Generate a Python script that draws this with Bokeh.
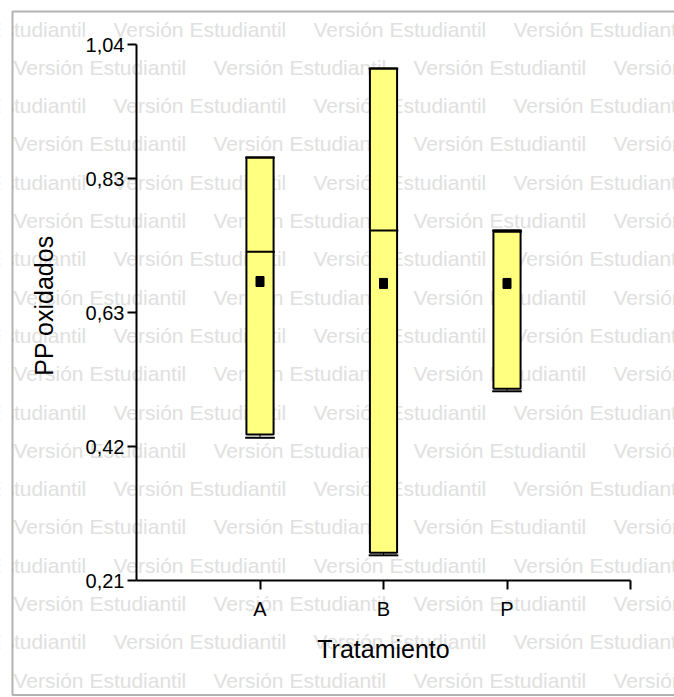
from bokeh.plotting import figure
from bokeh.models import ColumnDataSource, LabelSet, PolyAnnotation, FixedTicker, Range1d
from bokeh.core.properties import value
from bokeh.embed import file_html
from bokeh.resources import INLINE

# ---------------- data ----------------
treatments = ["A", "B", "P"]
x_pos = [1, 2, 3]
mins = [0.431, 0.249, 0.503]
q1 = [0.436, 0.253, 0.507]
medians = [0.719, 0.752, 0.750]
q3 = [0.865, 1.003, 0.752]
maxs = [0.865, 1.003, 0.752]
means = [0.673, 0.670, 0.670]

y_ticks = [0.21, 0.4175, 0.625, 0.8325, 1.04]
y_tick_labels = ["0,21", "0,42", "0,63", "0,83", "1,04"]
x_ticks = [1, 2, 3, 4]
x_tick_labels = ["A", "B", "P", ""]

# ---------------- layout (page pixels) ----------------
W, H = 674, 697
AX_L, AX_R, AX_T, AX_B = 136, 630, 44, 580     # axes box in page px
X0, X1 = 0.0, 4.0
Y0, Y1 = 0.21, 1.04
kx = (AX_R - AX_L) / (X1 - X0)
ky = (AX_B - AX_T) / (Y1 - Y0)

p = figure(width=W, height=H,
           x_range=Range1d(X0 - AX_L / kx, X1 + (W - AX_R) / kx),
           y_range=Range1d(Y0 - (H - AX_B) / ky, Y1 + AX_T / ky),
           output_backend="svg", toolbar_location=None,
           min_border_left=0, min_border_right=0, min_border_top=0, min_border_bottom=0)
p.grid.visible = False
p.outline_line_color = None
p.background_fill_color = "white"
p.border_fill_color = "white"

# ---------------- watermark ----------------
def scr(px, py):
    return px, H - py

wm_x, wm_y, wm_t = [], [], []
for k in range(18):
    base = 36 + 38.3 * k
    start = 113 if k % 2 == 0 else 13
    for j in range(-1, 4):
        sx, sy = scr(start + 200 * j, base)
        wm_x.append(sx)
        wm_y.append(sy)
        wm_t.append("Versión Estudiantil")
wm_src = ColumnDataSource(dict(x=wm_x, y=wm_y, t=wm_t))
wm = LabelSet(x="x", y="y", text="t", source=wm_src, x_units="screen", y_units="screen",
              text_font=value("Liberation Sans"), text_font_size="21px", text_color="#E0E0E0",
              text_baseline="alphabetic", text_align="left", level="underlay")
p.add_layout(wm)

mx, my = zip(*[scr(0, 0), scr(12, 0), scr(12, H), scr(0, H)])
mask = PolyAnnotation(xs=list(mx), ys=list(my), xs_units="screen", ys_units="screen",
                      fill_color="white", fill_alpha=1, line_alpha=0, level="underlay")
p.add_layout(mask)

fx, fy = zip(*[scr(12, 11), scr(900, 11), scr(900, 694.5), scr(12, 694.5)])
frame = PolyAnnotation(xs=list(fx), ys=list(fy), xs_units="screen", ys_units="screen",
                       fill_alpha=0, line_color="black", line_width=2, level="underlay")
p.add_layout(frame)

# ---------------- boxes ----------------
box_w = 0.22
cap_w = 0.24
src = ColumnDataSource(dict(
    x=x_pos, mins=mins, q1=q1, med=medians, q3=q3, maxs=maxs, mean=means,
    bl=[x - box_w / 2 for x in x_pos], br=[x + box_w / 2 + 0.01 for x in x_pos],
    cl=[x - cap_w / 2 for x in x_pos], cr=[x + cap_w / 2 for x in x_pos],
))
p.segment(x0="x", y0="mins", x1="x", y1="q1", source=src, line_color="black", line_width=1)
p.segment(x0="x", y0="q3", x1="x", y1="maxs", source=src, line_color="black", line_width=1)
p.vbar(x="x", width=box_w, bottom="q1", top="q3", source=src,
       fill_color="#FFFF80", line_color="black", line_width=2)
p.segment(x0="bl", y0="med", x1="br", y1="med", source=src, line_color="black", line_width=2)
p.segment(x0="cl", y0="mins", x1="cr", y1="mins", source=src, line_color="black", line_width=2)
p.segment(x0="cl", y0="maxs", x1="cr", y1="maxs", source=src, line_color="black", line_width=2)
p.rect(x="x", y="mean", width=8, height=10, width_units="screen", height_units="screen",
       source=src, fill_color="black", line_color="black")

# ---------------- axes ----------------
p.xaxis.ticker = FixedTicker(ticks=x_ticks)
p.xaxis.major_label_overrides = {t: l for t, l in zip(x_ticks, x_tick_labels)}
p.yaxis.ticker = FixedTicker(ticks=y_ticks)
p.yaxis.major_label_overrides = {t: l for t, l in zip(y_ticks, y_tick_labels)}
p.xaxis.axis_label = "Tratamiento"
p.yaxis.axis_label = "\u00a0\u00a0\u00a0PP  oxidados"
p.xaxis.fixed_location = Y0
p.yaxis.fixed_location = X0
p.xaxis.bounds = (X0, X1)
p.yaxis.bounds = (Y0, Y1)

for ax in (p.xaxis, p.yaxis):
    ax.axis_line_color = "black"
    ax.axis_line_width = 2
    ax.major_tick_line_color = "black"
    ax.major_tick_line_width = 2
    ax.major_tick_out = 9
    ax.major_tick_in = 0
    ax.minor_tick_line_color = None
    ax.major_label_text_font = "Liberation Sans"
    ax.major_label_text_font_size = "20px"
    ax.major_label_text_color = "black"
    ax.axis_label_text_font = "Liberation Sans"
    ax.axis_label_text_font_size = "25px"
    ax.axis_label_text_font_style = "normal"
    ax.axis_label_text_color = "black"
p.yaxis.major_label_standoff = 3
p.xaxis.major_label_standoff = 8
p.xaxis.axis_label_standoff = 12
p.yaxis.axis_label_standoff = 25

open("out.html", "w").write(file_html(p, INLINE))
